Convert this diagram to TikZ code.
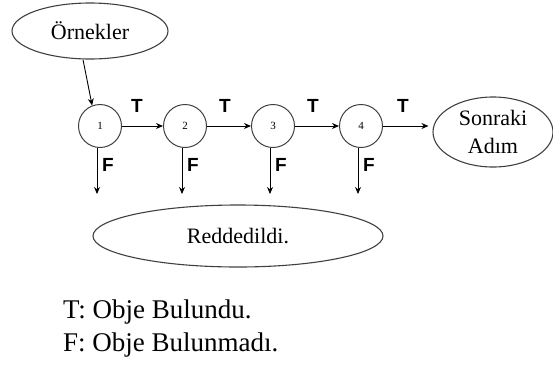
\documentclass[tikz,border=0pt]{standalone}
\usepackage{fontspec}
\setmainfont{Liberation Serif}
\newfontfamily\lblfont{Liberation Sans}
\usetikzlibrary{shapes.geometric,arrows.meta}
\begin{document}
\begin{tikzpicture}[x=1pt,y=-1pt,
  ell/.style={draw=black!75,line width=1.1pt,ellipse,inner sep=0pt},
  stage/.style={draw=black!75,line width=1pt,circle,minimum size=43pt,inner sep=0pt,font=\fontsize{11}{12}\selectfont},
  conn/.style={line width=0.9pt,-{Stealth[length=7pt,width=6pt]}},
  tf/.style={font=\lblfont\bfseries\fontsize{19}{20}\selectfont,inner sep=0pt},
  legend/.style={anchor=base west,font=\fontsize{27}{29}\selectfont,inner sep=0pt}]
\useasboundingbox (0,0) rectangle (553,365);
\node[ell,minimum width=156pt,minimum height=56pt,font=\fontsize{22}{24}\selectfont] (orn) at (90,31) {Örnekler};
\node[stage] (s1) at (100,126) {1};
\node[stage] (s2) at (185,126) {2};
\node[stage] (s3) at (273,126) {3};
\node[stage] (s4) at (361,126) {4};
\node[ell,minimum width=120pt,minimum height=70pt,align=center,font=\fontsize{22}{28}\selectfont] (next) at (493,132) {Sonraki\\Adım};
\node[ell,minimum width=290pt,minimum height=62pt,font=\fontsize{22}{24}\selectfont] (red) at (238,236) {Reddedildi.};
\draw[conn] ([xshift=-7pt]orn.south) coordinate (o1) -- (s1.111);
\draw[conn] (s1) -- (s2);
\draw[conn] (s2) -- (s3);
\draw[conn] (s3) -- (s4);
\draw[conn] (s4.east) -- ([xshift=-4pt]next.west |- s4.east);
\foreach \i in {1,2,3,4}{
  \coordinate (d\i) at ([yshift=-46pt]s\i.south);
  \draw[conn] ([xshift=-3pt]s\i.south) -- ([xshift=-3pt]d\i);
  \node[tf] (f\i) at ([xshift=8pt,yshift=-17pt]s\i.south) {F};
}
\node[tf] (t1) at (137,106) {T};
\node[tf] (t2) at (225,106) {T};
\node[tf] (t3) at (313,106) {T};
\node[tf] (t4) at (403,106) {T};
\node[legend] (l1) at (63,318) {T: Obje Bulundu.};
\node[legend] (l2) at (63,351) {F: Obje Bulunmadı.};
\end{tikzpicture}
\end{document}
